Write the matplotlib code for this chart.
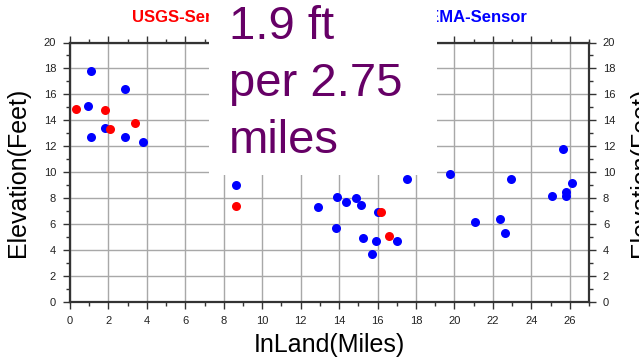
import matplotlib.pyplot as plt
from matplotlib.patches import Rectangle
from matplotlib.ticker import MultipleLocator

plt.rcParams["font.family"] = ["Liberation Sans", "DejaVu Sans"]

# USGS sensor readings (red)
usgs_miles = [0.3, 1.84, 2.1, 3.4, 8.65, 16.2, 16.58]
usgs_feet = [14.9, 14.8, 13.35, 13.8, 7.4, 6.95, 5.05]

# FEMA sensor readings (blue)
fema_miles = [0.92, 1.08, 1.08, 1.84, 2.86, 2.88, 3.82, 8.65, 12.9, 13.82,
              13.89, 14.38, 14.88, 15.14, 15.24, 15.71, 15.94, 16.02, 17.01,
              17.53, 19.79, 21.08, 22.36, 22.64, 22.93, 25.1, 25.64, 25.78,
              25.78, 26.13]
fema_feet = [15.1, 17.8, 12.7, 13.4, 16.4, 12.7, 12.3, 9.0, 7.3, 5.7,
             8.1, 7.7, 8.0, 7.5, 4.9, 3.7, 4.7, 6.9, 4.7,
             9.5, 9.9, 6.2, 6.4, 5.3, 9.5, 8.2, 11.8, 8.5,
             8.2, 9.2]

note_lines = ["1.9 ft", "per 2.75", "miles"]

W, H = 639, 361
fig = plt.figure(figsize=(W / 100, H / 100), dpi=100)
ax = fig.add_axes([70 / W, 1 - 302 / H, 519 / W, 259.5 / H])

ax.plot(fema_miles, fema_feet, "o", color="#0000ff", ms=6.5, mew=0, zorder=3)
ax.plot(usgs_miles, usgs_feet, "o", color="#ff0000", ms=6.5, mew=0, zorder=3)

ax.set_xlim(0, 27)
ax.set_ylim(0, 20)
ax.xaxis.set_major_locator(MultipleLocator(2))
ax.xaxis.set_minor_locator(MultipleLocator(1))
ax.yaxis.set_major_locator(MultipleLocator(2))
ax.yaxis.set_minor_locator(MultipleLocator(1))
ax.grid(True, which="major", color="#a8a8a8", lw=1)
ax.set_axisbelow(True)
ax.tick_params(which="both", direction="out", top=True, right=True,
               labelright=True, colors="#333333", labelcolor="#222222",
               labelsize=8, width=1)
ax.tick_params(which="major", length=5, pad=5)
ax.tick_params(which="minor", length=3)
for sp in ax.spines.values():
    sp.set_color("#333333")
    sp.set_linewidth(1.6)

ax.set_xlabel("InLand(Miles)", fontsize=18, labelpad=5)
ax.set_ylabel("Elevation(Feet)", fontsize=18, labelpad=10)
fig.text(641 / W, 1 - 172 / H, "Elevation(Feet)", fontsize=18,
         rotation=90, ha="center", va="center")

# legend labels, partly hidden by the note box
box_left, box_right, box_bottom = 209, 437, 175
usgs = fig.text(132 / W, 1 - 17 / H, "USGS-Sensor", color="#ff0000",
                fontsize=12, fontweight="bold", va="center", zorder=1)
fema = fig.text(528 / W, 1 - 17 / H, "FEMA-Sensor", color="#0000ff",
                fontsize=12, fontweight="bold", va="center", ha="right",
                zorder=1)

fig.patches.append(Rectangle((box_left / W, 1 - box_bottom / H),
                             (box_right - box_left) / W, box_bottom / H,
                             transform=fig.transFigure, facecolor="white",
                             edgecolor="none", zorder=5))
for line, base in zip(note_lines, [39, 96.5, 153]):
    fig.text(229 / W, 1 - base / H, line, color="#660066", fontsize=34,
             va="baseline", ha="left", zorder=6)

fig.savefig("out.png", dpi=100)
